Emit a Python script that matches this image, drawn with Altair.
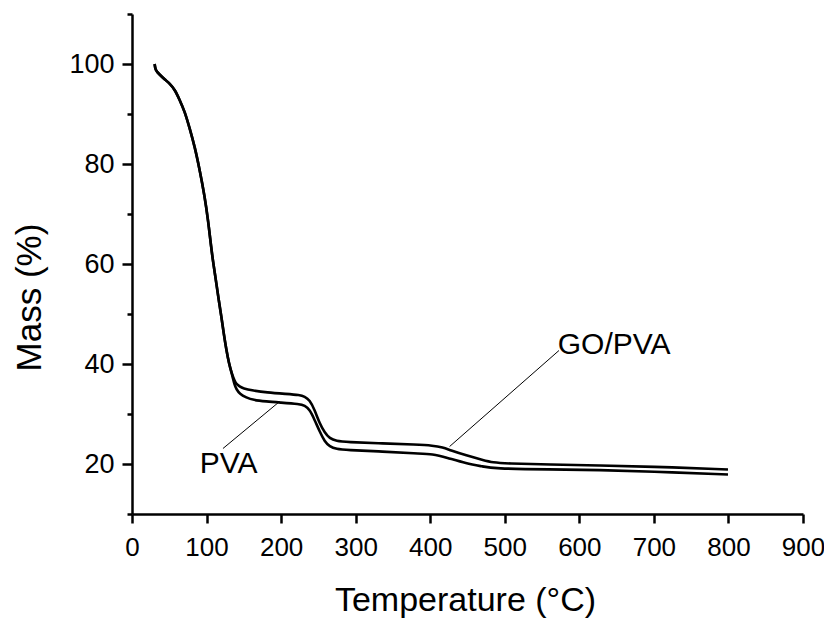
import altair as alt
import pandas as pd

# ---- data ----
shared_temp = [30.4, 31.3, 36.2, 43.9, 50.6, 57.3, 64.0, 70.7, 77.4, 84.1, 90.8, 97.5, 102.0,
               106.5, 108.7, 113.2, 116.3, 119.9, 123.0, 126.6, 130.1, 134.0]
shared_mass = [100.0, 98.8, 98.0, 96.9, 96.1, 94.9, 92.8, 90.5, 87.1, 83.5, 78.8, 73.5, 68.8,
               63.0, 60.5, 56.1, 52.8, 49.5, 46.1, 42.8, 40.1, 38.0]

gopva_temp = [137.7, 140.0, 144.4, 148.9, 162.3, 180.3, 207.1, 224.9, 231.6, 238.3, 245.0, 251.7,
              258.4, 265.1, 274.1, 287.5, 336.6, 381.4, 403.7, 417.1, 426.1, 448.5, 470.8, 484.2,
              502.1, 560.2, 627.3, 694.3, 799.4]
gopva_mass = [36.6, 36.0, 35.5, 35.1, 34.7, 34.3, 34.0, 33.8, 33.5, 32.8, 30.8, 28.1,
              26.3, 25.1, 24.6, 24.4, 24.1, 23.9, 23.7, 23.3, 22.8, 21.7, 20.8, 20.3,
              20.1, 19.9, 19.7, 19.5, 18.9]

pva_temp = [137.7, 140.0, 144.4, 153.4, 162.3, 180.3, 198.0, 224.9, 231.6, 238.3, 245.0, 251.7,
            258.4, 265.1, 274.1, 287.5, 336.6, 381.4, 403.7, 421.7, 448.5, 470.8, 484.2,
            560.2, 627.3, 694.3, 799.4]
pva_mass = [35.7, 35.0, 34.0, 33.3, 32.8, 32.5, 32.3, 32.0, 31.7, 30.9, 28.8, 26.5,
            24.5, 23.5, 23.0, 22.8, 22.5, 22.1, 22.0, 21.3, 20.1, 19.5, 19.1,
            18.9, 18.8, 18.5, 17.9]

label_text = ["PVA", "GO/PVA"]
label_temp = [90.8, 571.0]
label_mass = [18.3, 42.1]

leader_temp = [122.0, 426.0]
leader_mass = [23.1, 23.5]
leader_temp2 = [198.0, 572.7]
leader_mass2 = [32.5, 42.7]

x_ticks = [0, 100, 200, 300, 400, 500, 600, 700, 800, 900]
y_ticks = [10, 20, 30, 40, 50, 60, 70, 80, 90, 100, 110]

FONT = "Liberation Sans"

rows = []
for name, tt, mm in [("GO/PVA", gopva_temp, gopva_mass), ("PVA", pva_temp, pva_mass)]:
    for t, m in zip(shared_temp + tt, shared_mass + mm):
        rows.append({"series": name, "temp": t, "mass": m})
curves = pd.DataFrame(rows)

labels = pd.DataFrame({"text": label_text, "temp": label_temp, "mass": label_mass})
leaders = pd.DataFrame({"temp": leader_temp, "mass": leader_mass,
                        "temp2": leader_temp2, "mass2": leader_mass2})

x_scale = alt.Scale(domain=[0, 900], nice=False, zero=False)
y_scale = alt.Scale(domain=[10, 110], nice=False, zero=False)

x_axis = alt.Axis(
    values=x_ticks, format="d", grid=False, labelFlush=False, labelOverlap=False,
    labelFont=FONT, labelFontSize=26, labelColor="black", labelPadding=11,
    tickSize=9, tickWidth=2.5, tickColor="black",
    domainWidth=2.5, domainColor="black",
    title="Temperature (°C)", titleFont=FONT, titleFontSize=34, titleFontWeight="normal",
    titleColor="black", titleX=333, titleY=96, titleBaseline="alphabetic", titleAlign="center",
)
y_axis = alt.Axis(
    values=y_ticks, format="d", grid=False, labelFlush=False, labelOverlap=False,
    labelExpr="datum.value % 20 === 0 ? datum.label : ''",
    labelFont=FONT, labelFontSize=27, labelColor="black", labelPadding=8,
    tickSize={"condition": {"test": "datum.value % 20 === 0", "value": 10}, "value": 5},
    tickWidth=2.5, tickColor="black",
    domainWidth=2.5, domainColor="black",
    title="Mass (%)", titleFont=FONT, titleFontSize=35, titleFontWeight="normal",
    titleColor="black", titleAngle=270, titleX=-92, titleY=283,
    titleBaseline="alphabetic", titleAlign="center",
)

X = alt.X("temp:Q", scale=x_scale, axis=x_axis)
Y = alt.Y("mass:Q", scale=y_scale, axis=y_axis)

lines = alt.Chart(curves).mark_line(
    color="black", strokeWidth=2.6, interpolate="basis"
).encode(x=X, y=Y, detail="series:N")

leader_rules = alt.Chart(leaders).mark_rule(color="black", strokeWidth=1).encode(
    x=X, y=Y, x2="temp2:Q", y2="mass2:Q"
)

texts = alt.Chart(labels).mark_text(
    font=FONT, fontSize=30, color="black", align="left", baseline="alphabetic"
).encode(x=X, y=Y, text="text:N")

chart = alt.layer(lines, leader_rules, texts).properties(
    width=671, height=500,
    autosize=alt.AutoSizeParams(type="none"),
    padding={"left": 124, "top": 6, "right": 21, "bottom": 104},
    background="white",
).configure_view(stroke=None)

chart.save("out.html", embed_options={"renderer": "svg", "actions": False})
